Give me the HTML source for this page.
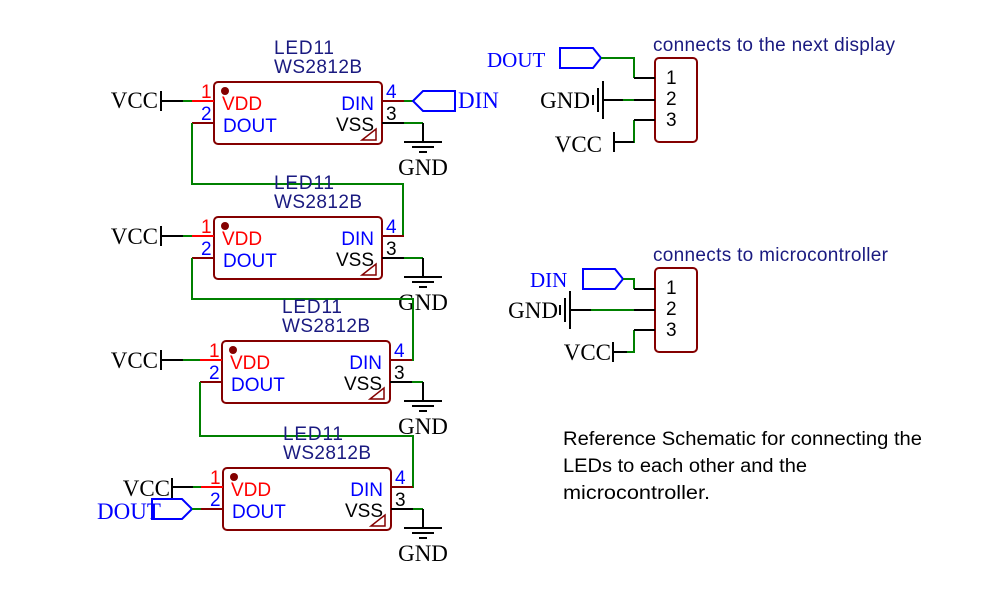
<!DOCTYPE html>
<html><head><meta charset="utf-8"><style>
html,body{margin:0;padding:0;background:#fff}
svg{display:block}
.lbl{font-family:"Liberation Sans",sans-serif;font-size:19px;fill:#1a1a80;stroke:none}
.ss{font-family:"Liberation Sans",sans-serif;font-size:19px;stroke:none}
.sf{font-family:"Liberation Serif",serif;font-size:23px;stroke:none;fill:#000}
</style></head><body>
<svg width="995" height="589" viewBox="0 0 995 589" xmlns="http://www.w3.org/2000/svg">
<defs>
<g id="led">
  <rect x="0" y="0" width="168" height="62" rx="4" fill="none" stroke="#840000" stroke-width="2"/>
  <circle cx="11" cy="9" r="4" fill="#840000"/>
  <line x1="-22" y1="19" x2="0" y2="19" stroke="#ff0000" stroke-width="2"/>
  <line x1="-22" y1="41" x2="0" y2="41" stroke="#840000" stroke-width="2"/>
  <line x1="168" y1="19" x2="190" y2="19" stroke="#840000" stroke-width="2"/>
  <line x1="168" y1="41" x2="190" y2="41" stroke="#000" stroke-width="2"/>
  <text x="-13" y="16" class="ss" fill="#ff0000">1</text>
  <text x="-13" y="38" class="ss" fill="#0000ff">2</text>
  <text x="172" y="16" class="ss" fill="#0000ff">4</text>
  <text x="172" y="38" class="ss" fill="#000">3</text>
  <text x="8" y="28" class="ss" fill="#ff0000">VDD</text>
  <text x="9" y="50" class="ss" fill="#0000ff">DOUT</text>
  <text x="160" y="28" class="ss" fill="#0000ff" text-anchor="end">DIN</text>
  <text x="160" y="49" class="ss" fill="#000" text-anchor="end">VSS</text>
  <polygon points="148,58 162,58 162,47" fill="none" stroke="#840000" stroke-width="1.5"/>
  <text x="60" y="-28" class="lbl" textLength="60">LED11</text>
  <text x="60" y="-9" class="lbl" textLength="88">WS2812B</text>
</g>
<g id="gnd">
  <line x1="0" y1="0" x2="0" y2="19" stroke="#000" stroke-width="2"/>
  <line x1="-19" y1="19" x2="19" y2="19" stroke="#000" stroke-width="2"/>
  <line x1="-11" y1="24" x2="11" y2="24" stroke="#000" stroke-width="2"/>
  <line x1="-4" y1="29" x2="4" y2="29" stroke="#000" stroke-width="2"/>
  <text x="0" y="52" class="sf" text-anchor="middle">GND</text>
</g>
</defs>

<g fill="none" stroke-width="2">
<!-- LED1 -->
<use href="#led" x="214" y="82"/>
<text x="158" y="108" class="sf" text-anchor="end">VCC</text>
<line x1="161" y1="91" x2="161" y2="111" stroke="#000"/>
<line x1="161" y1="101" x2="183" y2="101" stroke="#000"/>
<line x1="183" y1="101" x2="192" y2="101" stroke="#008000"/>
<line x1="404" y1="101" x2="413" y2="101" stroke="#008000"/>
<polygon points="413,101 423,91 455,91 455,111 423,111" stroke="#0000ff"/>
<text x="458" y="108" class="sf" fill="#0000ff" style="fill:#0000ff">DIN</text>
<line x1="404" y1="123" x2="423" y2="123" stroke="#008000"/>
<use href="#gnd" x="423" y="123"/>
<polyline points="192,123 192,184 403,184 403,236 404,236" stroke="#008000"/>

<!-- LED2 -->
<use href="#led" x="214" y="217"/>
<text x="158" y="244" class="sf" text-anchor="end">VCC</text>
<line x1="161" y1="226" x2="161" y2="246" stroke="#000"/>
<line x1="161" y1="236" x2="183" y2="236" stroke="#000"/>
<line x1="183" y1="236" x2="192" y2="236" stroke="#008000"/>
<line x1="404" y1="258" x2="423" y2="258" stroke="#008000"/>
<use href="#gnd" x="423" y="258"/>
<polyline points="192,258 192,299 413,299 413,360 412,360" stroke="#008000"/>

<!-- LED3 -->
<use href="#led" x="222" y="341"/>
<text x="158" y="368" class="sf" text-anchor="end">VCC</text>
<line x1="161" y1="350" x2="161" y2="370" stroke="#000"/>
<line x1="161" y1="360" x2="183" y2="360" stroke="#000"/>
<line x1="183" y1="360" x2="200" y2="360" stroke="#008000"/>
<line x1="412" y1="382" x2="423" y2="382" stroke="#008000"/>
<use href="#gnd" x="423" y="382"/>
<polyline points="200,382 200,436 413,436 413,488" stroke="#008000"/>

<!-- LED4 -->
<use href="#led" x="223" y="468"/>
<text x="170" y="496" class="sf" text-anchor="end">VCC</text>
<line x1="172" y1="478" x2="172" y2="498" stroke="#000"/>
<line x1="172" y1="487" x2="193" y2="487" stroke="#000"/>
<line x1="193" y1="487" x2="201" y2="487" stroke="#008000"/>
<polygon points="152,499 182,499 192,509 182,519 152,519" stroke="#0000ff"/>
<text x="97" y="519" class="sf" style="fill:#0000ff">DOUT</text>
<line x1="192" y1="509" x2="201" y2="509" stroke="#008000"/>
<line x1="413" y1="509" x2="423" y2="509" stroke="#008000"/>
<use href="#gnd" x="423" y="509"/>

<!-- Connector 1 -->
<rect x="655" y="58" width="42" height="84" rx="4" stroke="#840000"/>
<text x="653" y="51" class="lbl" textLength="242">connects to the next display</text>
<text x="666" y="84" class="ss" fill="#000">1</text>
<text x="666" y="105" class="ss" fill="#000">2</text>
<text x="666" y="126" class="ss" fill="#000">3</text>
<polygon points="560,48 593,48 601,58 593,68 560,68" stroke="#0000ff"/>
<text x="487" y="67" class="sf" style="fill:#0000ff;font-size:21px">DOUT</text>
<polyline points="601,58 634,58 634,78" stroke="#008000"/>
<line x1="634" y1="78" x2="655" y2="78" stroke="#000"/>
<line x1="604" y1="100" x2="623" y2="100" stroke="#000"/>
<line x1="623" y1="100" x2="634" y2="100" stroke="#008000"/>
<line x1="634" y1="100" x2="655" y2="100" stroke="#000"/>
<line x1="603" y1="81" x2="603" y2="119" stroke="#000"/>
<line x1="598" y1="88" x2="598" y2="112" stroke="#000"/>
<line x1="593" y1="95" x2="593" y2="105" stroke="#000"/>
<text x="590" y="108" class="sf" text-anchor="end">GND</text>
<polyline points="634,120 634,142 614,142" stroke="#008000"/>
<line x1="634" y1="120" x2="655" y2="120" stroke="#000"/>
<line x1="614" y1="142" x2="634" y2="142" stroke="#000"/>
<line x1="614" y1="132" x2="614" y2="152" stroke="#000"/>
<text x="602" y="152" class="sf" text-anchor="end">VCC</text>

<!-- Connector 2 -->
<rect x="655" y="268" width="42" height="84" rx="4" stroke="#840000"/>
<text x="653" y="261" class="lbl" textLength="235">connects to microcontroller</text>
<text x="666" y="294" class="ss" fill="#000">1</text>
<text x="666" y="315" class="ss" fill="#000">2</text>
<text x="666" y="336" class="ss" fill="#000">3</text>
<polygon points="583,269 615,269 623,279 615,289 583,289" stroke="#0000ff"/>
<text x="530" y="287" class="sf" style="fill:#0000ff;font-size:21px">DIN</text>
<polyline points="623,279 634,279 634,289" stroke="#008000"/>
<line x1="634" y1="289" x2="655" y2="289" stroke="#000"/>
<line x1="570" y1="310" x2="591" y2="310" stroke="#000"/>
<line x1="591" y1="310" x2="634" y2="310" stroke="#008000"/>
<line x1="634" y1="310" x2="655" y2="310" stroke="#000"/>
<line x1="570" y1="291" x2="570" y2="329" stroke="#000"/>
<line x1="565" y1="298" x2="565" y2="322" stroke="#000"/>
<line x1="560" y1="305" x2="560" y2="315" stroke="#000"/>
<text x="558" y="318" class="sf" text-anchor="end">GND</text>
<polyline points="634,330 634,352 613,352" stroke="#008000"/>
<line x1="634" y1="330" x2="655" y2="330" stroke="#000"/>
<line x1="613" y1="352" x2="627" y2="352" stroke="#000"/>
<line x1="613" y1="342" x2="613" y2="362" stroke="#000"/>
<text x="611" y="360" class="sf" text-anchor="end">VCC</text>
</g>

<g font-family="'Liberation Sans',sans-serif" font-size="19" fill="#000">
<text x="563" y="445" textLength="359" lengthAdjust="spacingAndGlyphs">Reference Schematic for connecting the</text>
<text x="563" y="472" textLength="244" lengthAdjust="spacingAndGlyphs">LEDs to each other and the</text>
<text x="563" y="499" textLength="147" lengthAdjust="spacingAndGlyphs">microcontroller.</text>
</g>
</svg>
</body></html>
